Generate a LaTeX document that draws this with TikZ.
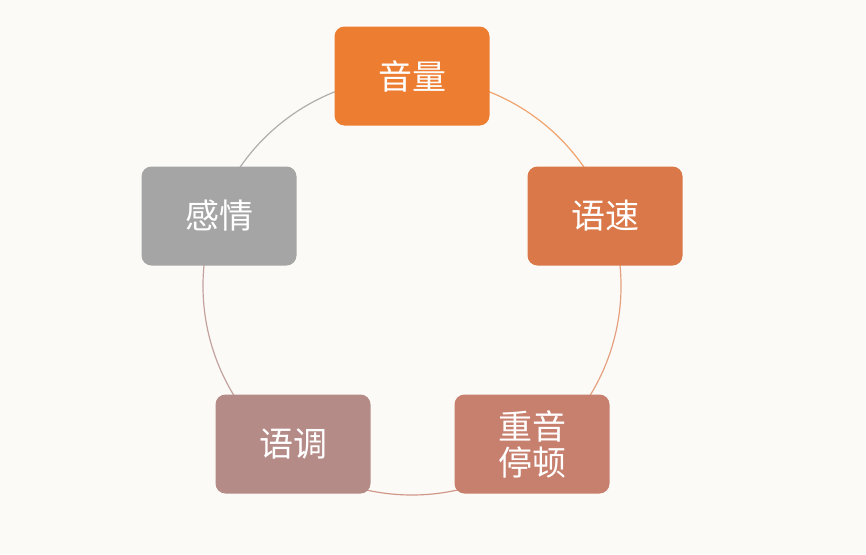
\documentclass[tikz,border=0pt]{standalone}
\usepackage{fontspec}
\newfontfamily\cjk{Noto Sans CJK SC}
\definecolor{bg}{HTML}{FBFAF6}
\definecolor{cA}{HTML}{ED7D31}
\definecolor{cB}{HTML}{DA7849}
\definecolor{cC}{HTML}{C77F6E}
\definecolor{cD}{HTML}{B48B87}
\definecolor{cE}{HTML}{A5A5A5}
\begin{document}
\begin{tikzpicture}[x=1pt,y=1pt,
  box/.style={rounded corners=10pt,minimum width=155pt,minimum height=99pt,inner sep=0pt,
    text=white,font=\cjk\fontsize{34pt}{40pt}\selectfont,align=center},
  ring/.style={line width=1.2pt}]
\fill[bg] (0,0) rectangle (866,-554);
\useasboundingbox (0,0) rectangle (866,-554);
\coordinate (c) at (412,-286);
\def\r{209}
\draw[ring,color=cA!70!white] (c) ++(90:\r) arc (90:18:\r);
\draw[ring,color=cB!70!white] (c) ++(18:\r) arc (18:-54:\r);
\draw[ring,color=cC!80!white] (c) ++(-54:\r) arc (-54:-126:\r);
\draw[ring,color=cD!80!white] (c) ++(-126:\r) arc (-126:-198:\r);
\draw[ring,color=cE!90!white] (c) ++(162:\r) arc (162:90:\r);
\node[box,fill=cA] (a) at (412,-76) {音量};
\node[box,fill=cB] (b) at (605,-216) {语速};
\node[box,fill=cC] (d) at (532,-444) {重音\\[-4pt]停顿};
\node[box,fill=cD] (e) at (293,-444) {语调};
\node[box,fill=cE] (f) at (219,-216) {感情};
\end{tikzpicture}
\end{document}
